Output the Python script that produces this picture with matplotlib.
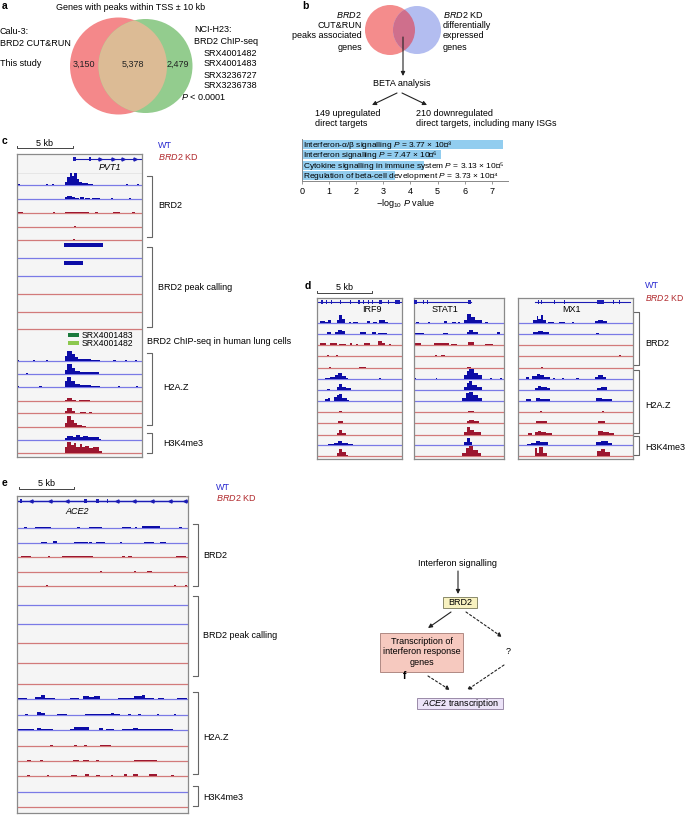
import matplotlib
matplotlib.use('Agg')
import matplotlib.pyplot as plt
from matplotlib.patches import Circle, Rectangle
import numpy as np

plt.rcParams['font.family'] = ['Liberation Sans', 'DejaVu Sans']
plt.rcParams['mathtext.fontset'] = 'custom'
plt.rcParams['mathtext.rm'] = 'Liberation Sans'
plt.rcParams['mathtext.it'] = 'Liberation Sans:italic'
plt.rcParams['mathtext.bf'] = 'Liberation Sans:bold'

# ---------------- data ----------------
venn_a_left = ['Calu-3:', 'BRD2 CUT&RUN', 'This study']
venn_a_right = ['NCI-H23:', 'BRD2 ChIP-seq']
venn_a_srx = ['SRX4001482', 'SRX4001483', 'SRX3236727', 'SRX3236738']
venn_a_counts = [3150, 5378, 2479]

beta_counts = [149, 210]
enrich_terms = ['Interferon-α/β signalling', 'Interferon signalling',
                'Cytokine signalling in immune system', 'Regulation of beta-cell development']
enrich_p = [3.77e-8, 7.47e-6, 3.13e-5, 3.73e-4]
enrich_ticks = [0, 1, 2, 3, 4, 5, 6, 7]

cond_brd2 = ['WT', 'WT', 'KD', 'KD', 'KD']
cond_h2az = ['WT', 'WT', 'WT', 'KD', 'KD', 'KD']
cond_h3k4 = ['WT', 'KD']

# gene models (kb within window)
pvt1_span, pvt1_exons, pvt1_arrows = (5.1, 11.16), [(5.0, 5.25), (6.45, 6.6)], [7.4, 8.6, 9.5, 10.5]
irf9_span, irf9_exons = (0.0, 7.7), [(0.4, 0.55), (0.8, 0.95), (1.25, 1.35), (2.05, 2.2), (2.95, 3.05), (3.75, 3.85),
                                      (4.15, 4.25), (4.65, 4.75), (4.95, 5.05), (5.6, 5.9), (6.45, 6.55), (7.1, 7.5)]
stat1_span, stat1_exons = (0.0, 5.2), [(0.0, 0.25), (0.85, 0.95), (1.15, 1.25), (4.9, 5.2)]
mx1_span, mx1_exons = (1.55, 10.2), [(1.8, 1.9), (2.1, 2.2), (3.3, 3.4), (4.2, 4.3), (7.2, 7.8), (8.6, 8.7), (9.2, 9.3)]
ace2_span, ace2_exons = (0.0, 15.5), [(0.3, 0.45), (6.1, 6.3), (7.2, 7.45), (8.15, 8.25)]
ace2_arrows = [1.3, 3.0, 4.5, 9.1, 10.6, 12.2, 13.9, 15.2]

# signal tracks: (start_kb, end_kb, signal)
c_brd2 = [
    [(0.05, 0.25, 1), (2.6, 2.8, 1), (3.1, 3.3, 1), (4.3, 4.5, 3), (4.5, 4.75, 8), (4.75, 4.95, 12), (4.95, 5.1, 9),
     (5.1, 5.35, 12), (5.35, 5.55, 6), (5.55, 5.8, 3), (5.8, 6.3, 2), (6.3, 6.8, 1), (9.7, 9.9, 1), (10.7, 10.9, 1)],
    [(4.3, 4.5, 2), (4.5, 4.9, 3.5), (4.9, 5.2, 2.5), (5.2, 5.5, 1.5), (5.6, 6.0, 2), (6.1, 6.5, 1.5), (6.7, 7.4, 1.5),
     (8.4, 8.6, 1), (10.0, 10.2, 1)],
    [(0.1, 0.55, 1.5), (3.2, 3.4, 1), (4.3, 6.4, 1.5), (7.0, 7.2, 1), (8.6, 9.2, 1.5), (10.3, 10.5, 1)],
    [(5.1, 5.3, 1)],
    [(5.0, 5.2, 0.8)],
]
c_peaks = [[(4.2, 7.7)], [(4.2, 5.9)], [], [], []]
c_srx = ['SRX4001483', 'SRX4001482']
c_h2az = [
    [(0.0, 0.2, 1), (1.4, 1.6, 1), (2.6, 2.8, 0.8), (4.3, 4.5, 5), (4.5, 4.9, 10), (4.9, 5.2, 7), (5.2, 5.45, 4),
     (5.45, 5.8, 2.5), (5.8, 6.2, 2), (6.2, 6.6, 2.5), (6.6, 7.4, 1.5), (8.6, 8.8, 1), (9.6, 9.8, 1), (10.5, 10.7, 1)],
    [(0.8, 1.0, 0.8), (4.3, 4.5, 4), (4.5, 4.9, 10), (4.9, 5.2, 6), (5.2, 5.6, 3), (5.6, 6.0, 2), (6.0, 6.6, 2.5),
     (6.6, 7.3, 2)],
    [(0.0, 0.2, 1), (2.0, 2.2, 0.8), (4.3, 4.5, 6), (4.5, 4.85, 10), (4.85, 5.2, 6), (5.2, 5.6, 3), (5.6, 6.0, 2.5),
     (6.0, 6.6, 2), (6.6, 7.4, 1.5), (9.0, 9.2, 1), (10.6, 10.8, 1)],
    [(4.3, 4.5, 1.5), (4.5, 4.9, 3), (4.9, 5.3, 1.5), (5.5, 6.5, 0.8)],
    [(4.3, 4.5, 2), (4.5, 4.9, 5), (4.9, 5.2, 2.5), (5.6, 6.2, 1), (6.4, 6.7, 0.8)],
    [(4.3, 4.5, 4), (4.5, 4.8, 11), (4.8, 5.1, 7), (5.1, 5.4, 4), (5.4, 5.8, 2), (5.8, 6.2, 1)],
]
c_h3k4 = [
    [(4.3, 4.5, 2), (4.5, 5.0, 4), (5.0, 5.3, 3), (5.3, 5.6, 5), (5.6, 5.9, 3), (5.9, 6.3, 4), (6.3, 6.6, 3),
     (6.6, 7.3, 3), (7.3, 7.5, 1)],
    [(4.3, 4.5, 6), (4.5, 4.8, 11), (4.8, 5.1, 8), (5.1, 5.3, 10), (5.3, 5.6, 6), (5.6, 5.8, 9), (5.8, 6.1, 6),
     (6.1, 6.4, 7), (6.4, 6.8, 5), (6.8, 7.3, 6), (7.3, 7.6, 2)],
]

irf9_tracks = [
    [(0.3, 0.7, 2), (0.7, 1.0, 1), (1.0, 1.3, 3), (1.85, 2.0, 3), (2.0, 2.3, 8), (2.3, 2.55, 4), (2.9, 3.1, 1),
     (3.3, 3.7, 1), (4.5, 4.8, 2), (5.1, 5.4, 1), (5.6, 6.2, 2.5), (6.2, 6.4, 1)],
    [(0.9, 1.3, 2), (1.6, 1.9, 2), (1.9, 2.3, 4), (2.3, 2.55, 2.5), (3.9, 4.4, 1.5), (5.0, 5.3, 1.5), (5.5, 6.3, 1.2)],
    [(0.3, 0.8, 1.5), (1.2, 1.8, 1.5), (2.0, 2.6, 1.2), (3.0, 3.2, 1.5), (3.5, 3.7, 1.2), (4.3, 4.8, 1.5),
     (5.5, 5.9, 4), (5.9, 6.2, 2), (6.5, 6.7, 1)],
    [(0.9, 1.1, 0.8), (1.7, 1.9, 0.8)],
    [(1.1, 1.3, 0.6), (3.8, 4.4, 0.6)],
    [(0.7, 1.2, 1), (1.2, 1.6, 2), (1.6, 1.9, 4), (1.9, 2.3, 6), (2.3, 2.6, 3), (2.6, 2.8, 1), (5.6, 5.8, 1)],
    [(0.9, 1.2, 1), (1.8, 2.0, 3), (2.0, 2.3, 6), (2.3, 2.6, 3), (2.6, 3.1, 2)],
    [(0.7, 1.0, 2), (1.0, 1.2, 3), (1.5, 1.8, 4), (1.8, 2.0, 6), (2.0, 2.3, 7), (2.3, 2.7, 3), (2.7, 2.9, 1)],
    [(2.0, 2.3, 0.8)],
    [(1.9, 2.4, 1.5)],
    [(1.85, 2.0, 2), (2.0, 2.3, 5), (2.3, 2.6, 2)],
    [(1.0, 1.5, 1), (1.5, 1.9, 2), (1.9, 2.3, 4), (2.3, 2.8, 2), (2.8, 3.3, 1)],
    [(1.8, 2.0, 3), (2.0, 2.3, 7), (2.3, 2.6, 4), (2.6, 2.8, 1)],
]
stat1_tracks = [
    [(0.2, 0.5, 1), (1.3, 1.5, 1), (2.7, 3.0, 1.5), (3.5, 3.8, 1), (4.0, 4.2, 1), (4.6, 4.8, 3), (4.8, 5.2, 9),
     (5.2, 5.6, 6), (5.6, 6.15, 3), (6.5, 6.7, 1)],
    [(0.1, 0.9, 1), (2.6, 3.1, 1), (4.8, 5.0, 2), (5.0, 5.4, 4), (5.4, 5.85, 2), (7.6, 7.8, 1.5)],
    [(0.1, 0.6, 1.5), (1.8, 3.2, 1.5), (3.4, 3.9, 1.2), (4.9, 5.5, 2.5), (6.5, 7.2, 1)],
    [(1.9, 2.1, 1), (2.5, 2.8, 1)],
    [(4.8, 5.2, 0.8)],
    [(0.1, 0.2, 1), (2.0, 2.1, 1), (4.6, 4.8, 4), (4.8, 5.0, 8), (5.0, 5.5, 10), (5.5, 5.8, 6), (5.8, 6.15, 4),
     (6.9, 7.1, 1), (7.8, 8.0, 1)],
    [(4.6, 4.8, 3), (4.8, 5.0, 7), (5.0, 5.3, 9), (5.3, 5.7, 5), (5.7, 6.2, 3)],
    [(4.4, 4.7, 3), (4.7, 5.0, 8), (5.0, 5.4, 9), (5.4, 5.8, 6), (5.8, 6.2, 3)],
    [(4.9, 5.5, 1)],
    [(4.8, 5.0, 2), (5.0, 5.5, 3), (5.5, 5.9, 1.5)],
    [(4.6, 4.8, 3), (4.8, 5.1, 8), (5.1, 5.5, 5), (5.5, 6.1, 3)],
    [(4.6, 4.8, 3), (4.8, 5.1, 7), (5.1, 5.3, 3)],
    [(4.4, 4.7, 3), (4.7, 5.0, 8), (5.0, 5.4, 10), (5.4, 5.8, 6), (5.8, 6.1, 3)],
]
mx1_tracks = [
    [(1.4, 1.7, 3), (1.7, 1.85, 7), (1.85, 2.05, 4), (2.05, 2.25, 8), (2.25, 2.5, 3), (2.7, 3.3, 1), (3.7, 4.3, 1),
     (4.9, 5.1, 1), (7.0, 7.3, 2), (7.3, 7.7, 3), (7.7, 8.1, 2)],
    [(1.4, 1.8, 2), (1.8, 2.3, 3), (2.3, 2.8, 1.5), (7.1, 7.4, 1)],
    [],
    [(9.2, 9.4, 0.8)],
    [(2.1, 2.3, 0.8)],
    [(0.7, 1.0, 1.5), (1.3, 1.7, 3), (1.7, 2.0, 5), (2.0, 2.4, 4), (2.4, 2.9, 2), (3.2, 3.4, 1), (4.0, 4.2, 1),
     (5.3, 5.5, 1), (7.0, 7.3, 2), (7.3, 7.7, 4), (7.7, 8.0, 2)],
    [(1.5, 1.8, 2), (1.8, 2.1, 4), (2.1, 2.6, 2.5), (2.6, 2.9, 1.5), (7.2, 7.5, 2), (7.5, 8.1, 3)],
    [(0.7, 1.2, 1.5), (1.6, 2.0, 3), (2.0, 2.9, 2), (7.1, 7.6, 3), (7.6, 8.5, 2)],
    [(2.0, 2.2, 0.8), (7.6, 7.8, 0.8)],
    [(1.6, 2.6, 2), (7.3, 7.9, 2)],
    [(0.9, 1.3, 1.5), (1.5, 1.8, 3), (1.8, 2.1, 4), (2.1, 2.5, 3), (2.5, 3.1, 2), (7.3, 7.7, 4), (7.7, 8.3, 3),
     (8.3, 8.7, 2)],
    [(0.8, 1.2, 1), (1.2, 1.6, 2), (1.6, 2.0, 4), (2.0, 2.7, 3), (7.1, 7.5, 3), (7.5, 8.2, 4), (8.2, 8.5, 2)],
    [(1.5, 1.75, 8), (1.75, 1.95, 3), (1.95, 2.25, 9), (2.25, 2.6, 3), (7.2, 7.5, 5), (7.5, 7.9, 7), (7.9, 8.4, 4)],
]

e_brd2 = [
    [(0.6, 0.9, 1), (1.6, 3.1, 1), (5.4, 5.7, 1.5), (6.5, 7.7, 1.5), (9.5, 10.3, 1), (10.7, 10.9, 1),
     (11.3, 13.0, 2), (14.7, 15.0, 1)],
    [(2.2, 2.7, 1.5), (3.3, 3.6, 2), (5.2, 6.4, 1.5), (6.5, 6.8, 1), (7.2, 8.0, 1), (9.3, 9.5, 0.8),
     (11.5, 12.4, 1.5), (13.0, 13.5, 1)],
    [(0.4, 1.3, 1.5), (2.8, 3.0, 1.5), (4.1, 6.9, 1.2), (9.5, 9.8, 1.5), (10.1, 10.4, 1), (14.4, 15.3, 1.5)],
    [(7.5, 7.7, 1), (10.6, 10.8, 1), (11.8, 12.2, 1)],
    [(2.6, 2.8, 0.8), (14.2, 14.4, 0.8), (15.2, 15.4, 0.8)],
]
e_peaks = [[], [], [], [], []]
e_h2az = [
    [(0.1, 0.9, 1.5), (1.6, 2.2, 2.5), (2.2, 2.5, 4), (2.5, 3.4, 1.5), (4.8, 5.6, 1.5), (6.0, 6.5, 3), (6.5, 7.0, 2),
     (7.0, 7.5, 3), (9.2, 10.6, 1.5), (10.6, 11.3, 3), (11.3, 11.6, 4), (11.6, 12.4, 1.5), (12.8, 13.3, 1),
     (14.5, 15.4, 1.5)],
    [(0.7, 1.0, 1), (1.8, 2.2, 3), (2.2, 2.5, 2), (3.6, 4.5, 1), (6.2, 8.5, 1.2), (8.5, 8.8, 2), (8.8, 9.3, 1.2),
     (10.1, 10.3, 1), (11.0, 11.2, 1), (12.7, 12.9, 1), (14.2, 14.4, 1)],
    [(0.1, 1.5, 1), (1.8, 2.2, 2), (2.2, 3.3, 1.5), (4.8, 5.2, 1), (5.2, 6.5, 3), (7.4, 7.8, 2), (8.1, 8.8, 1),
     (9.5, 10.5, 1), (10.5, 11.0, 2), (11.0, 14.1, 1)],
    [(3.0, 3.3, 0.8), (5.2, 5.4, 0.8), (6.1, 6.3, 0.8), (7.5, 8.5, 0.8)],
    [(0.9, 1.3, 1), (2.1, 2.4, 1), (5.1, 5.6, 1), (6.0, 6.5, 1.5), (7.2, 7.4, 1), (10.6, 12.7, 1.2)],
    [(0.9, 1.2, 1), (2.7, 2.9, 1), (4.9, 5.4, 1), (6.2, 6.5, 2), (7.2, 7.5, 1), (8.5, 8.7, 1), (9.7, 10.0, 1.5),
     (10.5, 11.0, 1.5), (12.0, 12.7, 1.5), (14.0, 14.2, 1)],
]
e_h3k4 = [[], []]

# ---------------- style ----------------
W, H = 685, 815
WT_FILL, KD_FILL = '#0c0ca6', '#9c1730'
WT_LINE, KD_LINE = '#7a7ae6', '#d27a7a'
GENE = '#1c1cb4'
WT_TXT, KD_TXT = '#2a2ad0', '#b0282c'
FS = 6.5
SUP = str.maketrans('0123456789-', '⁰¹²³⁴⁵⁶⁷⁸⁹⁻')

fig = plt.figure(figsize=(W / 100, H / 100), dpi=100)
ov = fig.add_axes([0, 0, 1, 1])
ov.set_xlim(0, W)
ov.set_ylim(H, 0)
ov.axis('off')


def px_axes(x0, y0, x1, y1):
    return fig.add_axes([x0 / W, 1 - y1 / H, (x1 - x0) / W, (y1 - y0) / H])


def t(x, y, s, **kw):
    kw.setdefault('fontsize', FS)
    kw.setdefault('va', 'center')
    ov.text(x, y, s, **kw)


def panel(x, y, s):
    t(x, y, s, fontsize=7.5, fontweight='bold')


def bracket(x, y0, y1):
    ov.plot([x - 5, x, x, x - 5], [y0, y0, y1, y1], color='#666666', lw=0.8)


def scalebar(x0, x1, y):
    ov.plot([x0, x0, x1, x1], [y - 2, y, y, y - 2], color='#444444', lw=0.7)
    t((x0 + x1) / 2, y - 5, '5 kb', ha='center')


def arrow(p0, p1, ls='-', head='-|>'):
    ov.annotate('', xy=p1, xytext=p0,
                arrowprops=dict(arrowstyle=head, color='#222222', lw=0.8, linestyle=ls,
                                mutation_scale=6, shrinkA=0, shrinkB=0))


def make_box(x0, y0, x1, y1, xmax):
    ax = px_axes(x0, y0, x1, y1)
    ax.set_xlim(0, xmax)
    ax.set_ylim(y1, y0)
    ax.set_facecolor('#f5f5f5')
    for s in ax.spines.values():
        s.set_color('#8a8a8a')
        s.set_linewidth(0.9)
    ax.set_xticks([])
    ax.set_yticks([])
    return ax


def draw_tracks(ax, tracks, conds, bases):
    for segs, cond, b in zip(tracks, conds, bases):
        ax.axhline(b, color=WT_LINE if cond == 'WT' else KD_LINE, lw=0.9, zorder=1)
        if segs:
            s = np.array(segs, float)
            ax.bar(s[:, 0], -s[:, 2], width=s[:, 1] - s[:, 0], bottom=b, align='edge',
                   color=WT_FILL if cond == 'WT' else KD_FILL, linewidth=0, zorder=2)


def draw_peaks(ax, peaks, conds, bases):
    for ivs, cond, b in zip(peaks, conds, bases):
        ax.axhline(b, color=WT_LINE if cond == 'WT' else KD_LINE, lw=0.9, zorder=1)
        for s, e in ivs:
            ax.add_patch(Rectangle((s, b - 15), e - s, 4, color=WT_FILL, lw=0, zorder=2))


def draw_gene(ax, span, exons, y, arrows=None, marker='>'):
    ax.plot(span, [y, y], color=GENE, lw=0.8, zorder=2)
    for s, e in exons:
        ax.add_patch(Rectangle((s, y - 2), e - s, 4, color=GENE, lw=0, zorder=3))
    if arrows:
        ax.plot(arrows, [y] * len(arrows), ls='none', marker=marker, ms=2.2, color=GENE, zorder=3)


# ================= panel a =================
panel(2, 6, 'a')
t(131, 8, 'Genes with peaks within TSS ± 10 kb', ha='center')
ra = Circle((118.5, 66), 48.5, fc='#f4888a', ec='none')
ga = Circle((145.5, 66), 47, fc='#93cc8e', ec='none')
ov.add_patch(ra)
ov.add_patch(ga)
la = Circle((145.5, 66), 47, fc='#dcbb95', ec='none')
ov.add_patch(la)
la.set_clip_path(ra)
for x, v in zip([84, 133, 178], venn_a_counts):
    t(x, 64, f'{v:,}', ha='center', color='#222222')
t(0, 32, venn_a_left[0])
t(0, 43, venn_a_left[1])
t(0, 64, venn_a_left[2])
t(194, 30, venn_a_right[0])
t(194, 42, venn_a_right[1])
for i, s in enumerate(venn_a_srx):
    t(204, 53 + 11 * i, s)
t(204, 97, '$P$ < 0.0001', ha='center')

# ================= panel b =================
panel(302, 6, 'b')
rb = Circle((390, 30), 25, fc='#f48c8c', ec='none')
bb = Circle((417, 30), 24, fc='#b3bdf0', ec='none')
ov.add_patch(rb)
ov.add_patch(bb)
lb = Circle((417, 30), 24, fc='#cf6f8c', ec='none')
ov.add_patch(lb)
lb.set_clip_path(rb)
for y, s in zip([15, 26, 36, 47], ['$\\mathit{BRD2}$', 'CUT&RUN', 'peaks associated', 'genes']):
    t(362, y, s, ha='right')
for y, s in zip([15, 26, 36, 47], ['$\\mathit{BRD2}$ KD', 'differentially', 'expressed', 'genes']):
    t(443, y, s, ha='left')
arrow((403, 37), (403, 76))
t(402, 84, 'BETA analysis', ha='center')
arrow((397, 93), (372, 105))
arrow((402, 93), (427, 105))
t(315, 113, f'{beta_counts[0]} upregulated')
t(315, 124, 'direct targets')
t(416, 113, f'{beta_counts[1]} downregulated')
t(416, 124, 'direct targets, including many ISGs')

axb = px_axes(302, 139, 302 + 27.1 * 7.6, 181)
vals = -np.log10(enrich_p)
ypos = np.arange(len(enrich_terms))
axb.barh(ypos, vals, height=0.82, color='#92cdef', linewidth=0)
axb.set_ylim(3.5, -0.5)
axb.set_xlim(0, 7.6)
axb.set_xticks(enrich_ticks)
axb.set_yticks([])
for sp in ['top', 'right']:
    axb.spines[sp].set_visible(False)
for sp in ['left', 'bottom']:
    axb.spines[sp].set_color('#888888')
    axb.spines[sp].set_linewidth(0.7)
axb.tick_params(axis='x', labelsize=FS, length=2.5, width=0.6, color='#888888', pad=1.5)
axb.set_xlabel('−log$_{10}$ $P$ value', fontsize=FS, labelpad=1)
axb.patch.set_alpha(0)
for yi, term, p in zip(ypos, enrich_terms, enrich_p):
    ex = int(np.floor(np.log10(p)))
    man = p / 10 ** ex
    sup = str(ex).translate(SUP)
    axb.text(0.05, yi + 0.05, f'{term} $P$ = {man:.2f} × 10{sup}', fontsize=6.0, va='center')

# ================= panel c =================
panel(2, 141, 'c')
scalebar(17, 73, 148)
t(158, 146, 'WT', color=WT_TXT)
t(158, 157, '$\\mathit{BRD2}$ KD', color=KD_TXT)
axc = make_box(17, 154, 142, 457, 11.16)
draw_gene(axc, pvt1_span, pvt1_exons, 159, pvt1_arrows, '>')
axc.text(8.3, 167, 'PVT1', fontsize=FS, style='italic', ha='center', va='center')
axc.axhline(173, color='#e4e4e4', lw=0.6)
draw_tracks(axc, c_brd2, cond_brd2, [185, 199, 213, 227, 240])
draw_peaks(axc, c_peaks, ['WT', 'WT', 'KD', 'KD', 'KD'], [258, 276, 294, 312, 329])
for i, (lab, col) in enumerate(zip(c_srx, ['#1b7a3c', '#8cc84e'])):
    axc.add_patch(Rectangle((4.55, 333 + 8 * i), 0.95, 4, color=col, lw=0))
    axc.text(5.8, 335 + 8 * i, lab, fontsize=6.2, va='center')
draw_tracks(axc, c_h2az, cond_h2az, [361, 374, 387, 401, 413, 427])
draw_tracks(axc, c_h3k4, cond_h3k4, [440, 453])
bracket(152, 176, 237)
t(158, 206, 'BRD2')
bracket(152, 247, 327)
t(158, 287, 'BRD2 peak calling')
t(147, 341, 'BRD2 ChIP-seq in human lung cells')
bracket(152, 353, 425)
t(163, 387, 'H2A.Z')
bracket(152, 433, 453)
t(163, 443, 'H3K4me3')

# ================= panel d =================
panel(305, 286, 'd')
scalebar(317, 372, 293)
t(645, 286, 'WT', color=WT_TXT)
t(645, 298, '$\\mathit{BRD2}$ KD', color=KD_TXT, fontsize=6.2)
d_conds = cond_brd2 + cond_h2az + cond_h3k4
d_bases = [323, 334, 345, 356, 368, 379, 390, 401, 412, 423, 435, 445, 456]
d_boxes = [(317, 402, 7.7, irf9_span, irf9_exons, irf9_tracks, 'IRF9', 5.0),
           (414, 504, 8.2, stat1_span, stat1_exons, stat1_tracks, 'STAT1', 2.8),
           (518, 633, 10.45, mx1_span, mx1_exons, mx1_tracks, 'MX1', 4.9)]
for x0, x1, xm, span, exons, tracks, name, nx in d_boxes:
    axd = make_box(x0, 298, x1, 459, xm)
    draw_gene(axd, span, exons, 302)
    axd.text(nx, 310, name, fontsize=FS, ha='center', va='center')
    draw_tracks(axd, tracks, d_conds, d_bases)
bracket(639, 312, 365)
t(645, 343, 'BRD2')
bracket(639, 370, 433)
t(645, 405, 'H2A.Z')
bracket(639, 436, 455)
t(645, 447, 'H3K4me3')

# ================= panel e =================
panel(2, 483, 'e')
scalebar(19, 74, 489)
t(216, 487, 'WT', color=WT_TXT)
t(216, 498, '$\\mathit{BRD2}$ KD', color=KD_TXT)
axe = make_box(17, 496, 188, 813, 15.5)
axe.axhspan(499.5, 502.5, color='#c8ccf0', lw=0, zorder=1)
draw_gene(axe, ace2_span, ace2_exons, 501, ace2_arrows, '<')
axe.text(5.5, 511, 'ACE2', fontsize=FS, style='italic', ha='center', va='center')
draw_tracks(axe, e_brd2, cond_brd2, [528, 543, 557, 572, 586])
draw_peaks(axe, e_peaks, ['WT', 'WT', 'KD', 'KD', 'KD'], [605, 624, 643, 663, 684])
draw_tracks(axe, e_h2az, cond_h2az, [699, 715, 730, 746, 761, 776])
draw_tracks(axe, e_h3k4, cond_h3k4, [792, 807])
bracket(198, 524, 586)
t(203, 555, 'BRD2')
bracket(198, 596, 676)
t(203, 635, 'BRD2 peak calling')
bracket(198, 692, 774)
t(203, 737, 'H2A.Z')
bracket(198, 786, 806)
t(203, 797, 'H3K4me3')

# ================= panel f =================
panel(403, 676, 'f')
t(458, 564, 'Interferon signalling', ha='center')
arrow((458, 571), (458, 594))
ov.add_patch(Rectangle((443, 597), 34, 11, fc='#f8f2c0', ec='#8a8a6a', lw=0.7))
t(460, 602.5, 'BRD2', ha='center')
arrow((451, 612), (428, 628))
arrow((466, 612), (502, 637), ls=(0, (2, 2)))
ov.add_patch(Rectangle((380, 633), 83, 39, fc='#f6c9bf', ec='#b08a84', lw=0.7))
for y, s in zip([641.5, 652, 662.5], ['Transcription of', 'interferon response', 'genes']):
    t(421.5, y, s, ha='center')
t(508, 652, '?', ha='center')
arrow((504, 665), (467, 690), ls=(0, (2, 2)))
arrow((428, 676), (450, 690), ls=(0, (2, 2)))
ov.add_patch(Rectangle((417, 698), 86, 11, fc='#ece3f8', ec='#9a8aa8', lw=0.7))
t(460, 703.5, '$\\mathit{ACE2}$ transcription', ha='center')

fig.savefig('out.png', dpi=100)
